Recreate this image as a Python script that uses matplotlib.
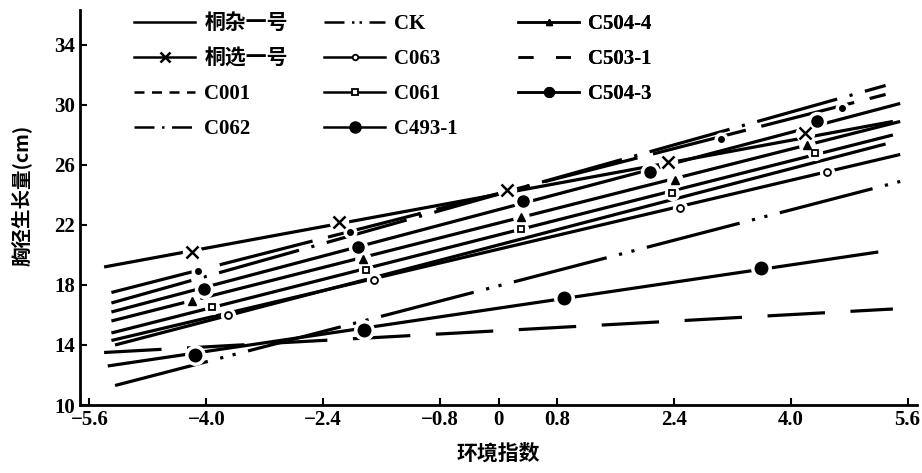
import matplotlib
matplotlib.use("Agg")
import matplotlib.pyplot as plt
from matplotlib.lines import Line2D

plt.rcParams['font.family'] = ['Liberation Serif', 'Noto Sans CJK SC']

# ---- data ----
varieties = ['桐杂一号', '桐选一号', 'C001', 'C062', 'CK', 'C063', 'C061',
             'C493-1', 'C504-4', 'C503-1', 'C504-3']
# regression line end points (environment index, DBH growth cm)
x_start = [-5.25, -5.4, -5.4, -5.3, -5.25, -5.3, -5.3, -5.35, -5.3, -5.3, -5.3]
y_start = [14.0, 19.2, 13.5, 16.8, 11.3, 14.3, 14.8, 12.6, 15.6, 17.5, 16.2]
x_end = [5.3, 5.4, 5.4, 5.3, 5.5, 5.5, 5.4, 5.2, 5.5, 5.3, 5.5]
y_end = [27.4, 28.9, 16.4, 31.3, 24.9, 26.7, 28.0, 20.2, 28.9, 30.7, 30.1]

# observed points (markers)
x_tongxuan = [-4.2, -2.18, 0.12, 2.32, 4.19]
y_tongxuan = [20.2, 22.2, 24.3, 26.2, 28.1]
x_c503_1 = [-4.12, -2.04, 3.05, 4.7]
y_c503_1 = [18.9, 21.5, 27.7, 29.8]
x_c504_3 = [-4.03, -1.93, 0.33, 2.07, 4.36]
y_c504_3 = [17.7, 20.5, 23.6, 25.5, 28.9]
x_c504_4 = [-4.19, -1.86, 0.31, 2.41, 4.23]
y_c504_4 = [16.9, 19.7, 22.5, 25.0, 27.3]
x_c061 = [-3.92, -1.82, 0.31, 2.37, 4.33]
y_c061 = [16.5, 19.0, 21.7, 24.1, 26.8]
x_c063 = [-3.71, -1.70, 2.48, 4.5]
y_c063 = [16.0, 18.3, 23.1, 25.5]
x_c493_1 = [-4.16, -1.84, 0.9, 3.6]
y_c493_1 = [13.3, 15.0, 17.1, 19.1]

x_ticks = [-5.6, -4.0, -2.4, -0.8, 0, 0.8, 2.4, 4.0, 5.6]
x_ticklabels = ['\u22125.6', '\u22124.0', '\u22122.4', '\u22120.8', '0', '0.8', '2.4', '4.0', '5.6']
y_ticks = [10, 14, 18, 22, 26, 30, 34]

# ---- styles ----
plot_ls = {
    '桐杂一号': '-',
    '桐选一号': '-',
    'C001': (0, (18, 8)),
    'C062': (0, (26, 4, 1, 4)),
    'CK': (0, (30, 4, 1, 3, 1, 4)),
    'C063': '-',
    'C061': '-',
    'C493-1': '-',
    'C504-4': '-',
    'C503-1': (0, (30, 5)),
    'C504-3': '-',
}
legend_ls = {
    '桐杂一号': '-',
    '桐选一号': '-',
    'C001': (0, (4, 3)),
    'C062': (0, (8, 3, 1, 3)),
    'CK': (0, (8, 3, 1, 2, 1, 3)),
    'C063': '-',
    'C061': '-',
    'C493-1': '-',
    'C504-4': '-',
    'C503-1': (0, (6, 9)),
    'C504-3': '-',
}
marker_style = {
    '桐选一号': dict(marker='x', ms=8, mew=1.8, mfc='black'),
    'C063': dict(marker='o', ms=5, mew=1.3, mfc='white'),
    'C061': dict(marker='s', ms=5, mew=1.3, mfc='white'),
    'C493-1': dict(marker='o', ms=9, mew=1.0, mfc='black'),
    'C504-4': dict(marker='^', ms=6, mew=1.0, mfc='black'),
    'C504-3': dict(marker='o', ms=8, mew=1.0, mfc='black'),
    'C503-1': dict(marker='o', ms=4, mew=1.0, mfc='black'),
}
points = {
    '桐选一号': (x_tongxuan, y_tongxuan),
    'C503-1': (x_c503_1, y_c503_1),
    'C504-3': (x_c504_3, y_c504_3),
    'C504-4': (x_c504_4, y_c504_4),
    'C061': (x_c061, y_c061),
    'C063': (x_c063, y_c063),
    'C493-1': (x_c493_1, y_c493_1),
}

fig = plt.figure(figsize=(9.22, 4.73), dpi=100)
ax = fig.add_axes([80 / 922, (473 - 405) / 473, (917 - 80) / 922, (405 - 10) / 473])

lw = 2.3
for i, name in enumerate(varieties):
    ax.plot([x_start[i], x_end[i]], [y_start[i], y_end[i]], color='black',
            lw=lw, ls=plot_ls[name], solid_capstyle='butt', dash_capstyle='butt', zorder=2)

for name, (px, py) in points.items():
    st = marker_style[name]
    ax.plot(px, py, ls='none', marker='o', ms=st['ms'] + 5, mfc='white', mec='white', zorder=3)
    ax.plot(px, py, ls='none', marker=st['marker'], ms=st['ms'], mew=st['mew'],
            mfc=st['mfc'], mec='black', color='black', zorder=4)

ax.set_xlim(-5.73, 5.73)
ax.set_ylim(10, 36.33)
ax.set_xticks(x_ticks)
ax.set_xticklabels(x_ticklabels)
ax.set_yticks(y_ticks)
ax.tick_params(direction='in', length=5, width=1.5, labelsize=15)
for lab in ax.get_xticklabels() + ax.get_yticklabels():
    lab.set_fontweight('bold')
ax.spines['top'].set_visible(False)
ax.spines['right'].set_visible(False)
ax.spines['left'].set_linewidth(2)
ax.spines['bottom'].set_linewidth(2)

ax.set_xlabel('环境指数', fontsize=15, fontweight='bold', family=['Noto Sans CJK SC'])
ax.xaxis.set_label_coords(0.5, -0.095)
ax.set_ylabel('胸径生长量(cm)', fontsize=14, fontweight='bold',
              family=['Noto Sans CJK SC', 'Liberation Serif'])
ax.yaxis.set_label_coords(-0.058, 0.53)


def handle(name):
    st = marker_style.get(name)
    if st is None or name == 'C503-1':
        return Line2D([], [], color='black', lw=1.8, ls=legend_ls[name])
    return Line2D([], [], color='black', lw=1.8, ls=legend_ls[name], marker=st['marker'],
                  ms=st['ms'] - 1, mew=st['mew'], mfc=st['mfc'], mec='black')


columns = [varieties[0:4], varieties[4:8], varieties[8:11]]
col_x = [124, 314, 508]
for names, cx in zip(columns, col_x):
    leg = ax.legend([handle(n) for n in names], names, loc='upper left',
                    bbox_to_anchor=(cx / 922, 1 - 4 / 473), bbox_transform=fig.transFigure,
                    frameon=False, borderpad=0, handlelength=2.9, handletextpad=0.45,
                    labelspacing=0.72, prop=dict(size=15, weight='bold'))
    ax.add_artist(leg)

fig.savefig('out.png', dpi=100)
